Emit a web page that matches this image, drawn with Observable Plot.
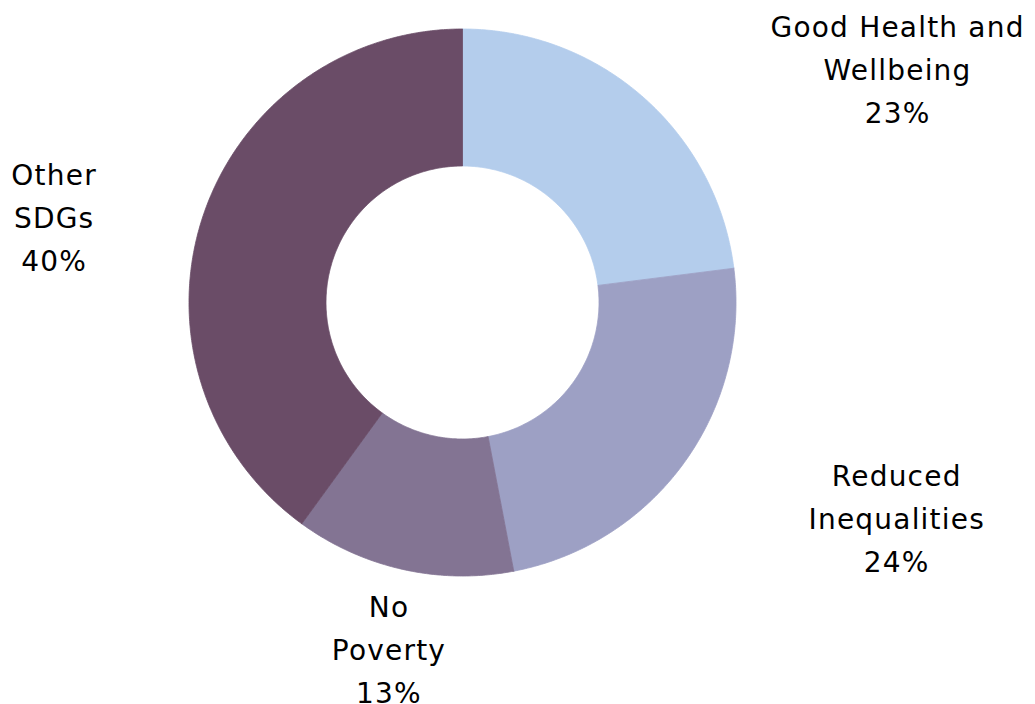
<!DOCTYPE html>
<html><head><meta charset="utf-8">
<script src="https://cdn.jsdelivr.net/npm/d3@7"></script>
<script src="https://cdn.jsdelivr.net/npm/@observablehq/plot@0.6"></script>
<style>html,body{margin:0;padding:0;background:#fff}</style>
</head><body><div id="chart"></div>
<script>
// ---- data ----
const categories = ["Good Health and Wellbeing", "Reduced Inequalities", "No Poverty", "Other SDGs"];
const labelLines = [["Good Health and", "Wellbeing"], ["Reduced", "Inequalities"], ["No", "Poverty"], ["Other", "SDGs"]];
const shares = [23, 24, 13, 40];
const colors = ["#b4cdec", "#9da0c4", "#837493", "#6a4c67"];

// ---- layout ----
const W = 1035, H = 704, cx = 462, cy = 302, R = 273.5, R0 = 136.5, RL = 360;
const labelNudge = [[197, -34], [143, -1], [5, 8], [-66, -23]]; // in px (x right, y up)

const total = d3.sum(shares);
let acc = 0;
const slices = categories.map((c, i) => {
  const a0 = acc / total * 2 * Math.PI; acc += shares[i];
  const a1 = acc / total * 2 * Math.PI;
  return {c, i, a0, a1, mid: (a0 + a1) / 2};
});
const rows = [];
for (const s of slices) {
  const n = Math.max(8, Math.ceil((s.a1 - s.a0) / (Math.PI / 360)));
  const pts = [];
  for (let k = 0; k <= n; k++) { const a = s.a0 + (s.a1 - s.a0) * k / n; pts.push([R * Math.sin(a), R * Math.cos(a)]); }
  for (let k = n; k >= 0; k--) { const a = s.a0 + (s.a1 - s.a0) * k / n; pts.push([R0 * Math.sin(a), R0 * Math.cos(a)]); }
  pts.push(pts[0]);
  pts.forEach(p => rows.push({name: s.c, x: p[0], y: p[1]}));
}
const labels = slices.map(s => ({
  name: s.c,
  x: RL * Math.sin(s.mid) + labelNudge[s.i][0],
  y: RL * Math.cos(s.mid) + labelNudge[s.i][1],
  text: labelLines[s.i].join("\n") + "\n" + shares[s.i] + "%"
}));

const chart = Plot.plot({
  width: W, height: H,
  margin: 0,
  x: {domain: [-cx, W - cx], axis: null},
  y: {domain: [-(H - cy), cy], axis: null},
  color: {domain: categories, range: colors},
  style: "background:#fff; letter-spacing:1.2px;",
  marks: [
    Plot.line(rows, {x: "x", y: "y", z: "name", fill: "name", stroke: "name", strokeWidth: 0.8, curve: "linear"}),
    Plot.text(labels, {x: "x", y: "y", text: "text", fill: "#000", fontSize: 28, lineHeight: 1.54,
      fontFamily: "'DejaVu Sans', sans-serif", textAnchor: "middle"})
  ]
});
document.getElementById("chart").appendChild(chart);
</script>
</body></html>
